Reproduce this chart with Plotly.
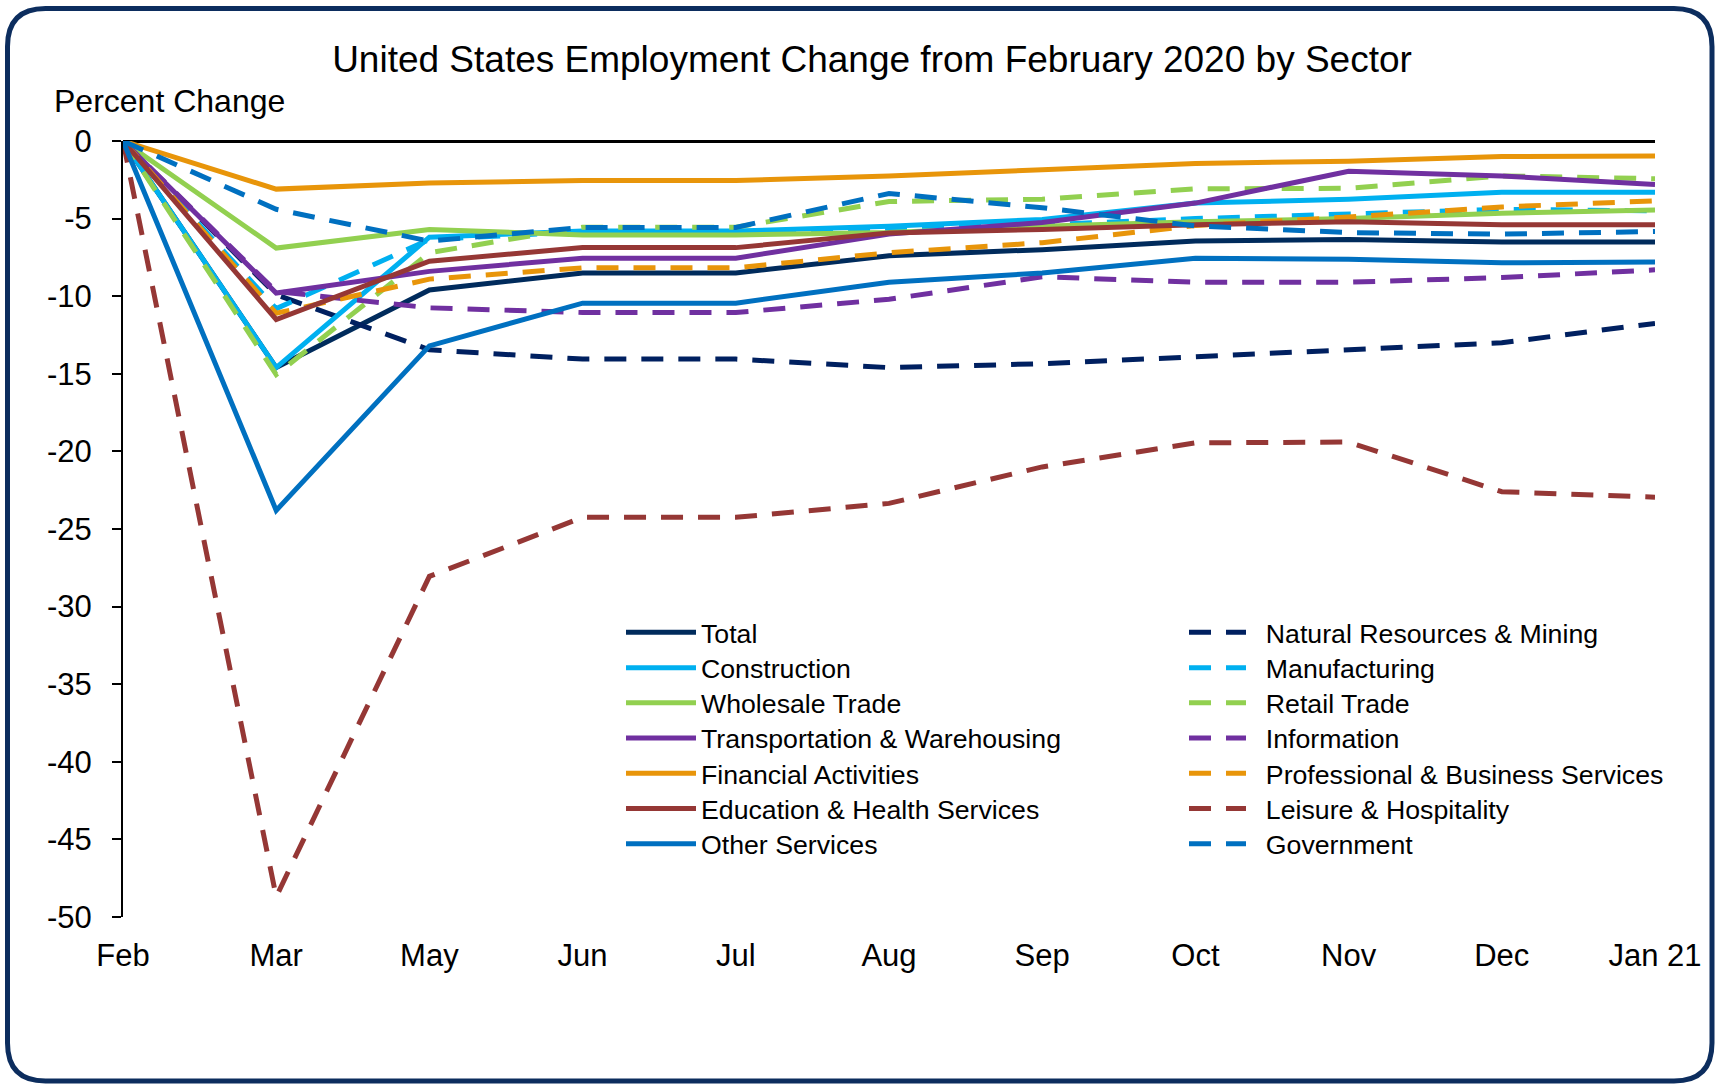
import plotly.graph_objects as go

# ---------------- data ----------------
months = ["Feb", "Mar", "May", "Jun", "Jul", "Aug", "Sep", "Oct", "Nov", "Dec", "Jan 21"]

total         = [0, -14.6, -9.6, -8.5, -8.5, -7.4, -7.0, -6.45, -6.35, -6.5, -6.5]
nat_res       = [0, -9.9, -13.45, -14.05, -14.05, -14.6, -14.35, -13.9, -13.45, -13.0, -11.75]
construction  = [0, -14.6, -6.2, -5.8, -5.8, -5.5, -5.05, -4.0, -3.75, -3.3, -3.3]
manufacturing = [0, -10.8, -6.35, -5.85, -5.85, -5.6, -5.4, -5.0, -4.7, -4.4, -4.5]
wholesale     = [0, -6.9, -5.7, -6.05, -6.05, -5.9, -5.5, -5.2, -5.0, -4.65, -4.45]
retail        = [0, -15.05, -7.2, -5.55, -5.55, -3.9, -3.75, -3.08, -3.05, -2.25, -2.43]
transport     = [0, -9.8, -8.4, -7.55, -7.55, -6.0, -5.25, -4.0, -1.95, -2.25, -2.8]
information   = [0, -9.7, -10.75, -11.05, -11.05, -10.2, -8.75, -9.1, -9.1, -8.8, -8.3]
financial     = [0, -3.1, -2.7, -2.55, -2.55, -2.25, -1.85, -1.45, -1.3, -1.0, -0.97]
professional  = [0, -11.1, -8.9, -8.17, -8.17, -7.2, -6.55, -5.45, -4.9, -4.25, -3.85]
education     = [0, -11.5, -7.75, -6.87, -6.87, -5.92, -5.7, -5.4, -5.2, -5.4, -5.4]
leisure       = [0, -48.7, -28.05, -24.25, -24.25, -23.35, -21.0, -19.45, -19.4, -22.6, -22.95]
other         = [0, -23.8, -13.2, -10.45, -10.45, -9.1, -8.5, -7.55, -7.62, -7.85, -7.8]
government    = [0, -4.4, -6.45, -5.57, -5.57, -3.38, -4.3, -5.47, -5.9, -6.0, -5.83]

y_ticks = [0, -5, -10, -15, -20, -25, -30, -35, -40, -45, -50]

# ---------------- styling ----------------
FONT = "Arial, 'Liberation Sans', sans-serif"
W, H = 1716, 1084
L, R, T, B = 123, 61, 141, 167
PW, PH = W - L - R, H - T - B
DASH = "22px,15px"
LEG_FONT = 26.7

# (name, values, colour, dash, legend column, legend row)
series = [
    ("Total", total, "#002B5C", "solid", 0, 0),
    ("Natural Resources & Mining", nat_res, "#002060", DASH, 1, 0),
    ("Construction", construction, "#00B0F0", "solid", 0, 1),
    ("Manufacturing", manufacturing, "#00B0F0", DASH, 1, 1),
    ("Wholesale Trade", wholesale, "#92D050", "solid", 0, 2),
    ("Retail Trade", retail, "#92D050", DASH, 1, 2),
    ("Transportation & Warehousing", transport, "#7030A0", "solid", 0, 3),
    ("Information", information, "#7030A0", DASH, 1, 3),
    ("Financial Activities", financial, "#E8950A", "solid", 0, 4),
    ("Professional & Business Services", professional, "#E8950A", DASH, 1, 4),
    ("Education & Health Services", education, "#953735", "solid", 0, 5),
    ("Leisure & Hospitality", leisure, "#953735", DASH, 1, 5),
    ("Other Services", other, "#0070C0", "solid", 0, 6),
    ("Government", government, "#0070C0", DASH, 1, 6),
]

ROW_Y = [632.5, 667.8, 703.0, 738.2, 773.5, 808.7, 844.0]   # pixel centres of legend rows
COL_X = [621, 1184]                                       # pixel left of legend items
COL_ITEMW = [70, 57]


def to_paper(px, py):
    return (px - L) / PW, (T + PH - py) / PH


fig = go.Figure()
legends = {}
for i, (name, vals, color, dash, col, row) in enumerate(series):
    leg_id = "legend" if i == 0 else "legend%d" % (i + 1)
    label = name if col == 0 else "\u00a0\u00a0" + name
    fig.add_trace(go.Scatter(
        x=months, y=vals, name=label, mode="lines",
        line=dict(color=color, width=5, dash=dash),
        legend=leg_id,
    ))
    px, py = to_paper(COL_X[col], ROW_Y[row])
    legends[leg_id] = dict(
        x=px, y=py, xanchor="left", yanchor="middle", orientation="v",
        font=dict(size=LEG_FONT, family=FONT, color="black"),
        itemwidth=COL_ITEMW[col], bgcolor="rgba(0,0,0,0)",
    )


def rounded_rect_path(x0, y0, x1, y1, r):
    pts = [
        ("M", [(x0 + r, y0)]),
        ("L", [(x1 - r, y0)]),
        ("Q", [(x1, y0), (x1, y0 + r)]),
        ("L", [(x1, y1 - r)]),
        ("Q", [(x1, y1), (x1 - r, y1)]),
        ("L", [(x0 + r, y1)]),
        ("Q", [(x0, y1), (x0, y1 - r)]),
        ("L", [(x0, y0 + r)]),
        ("Q", [(x0, y0), (x0 + r, y0)]),
    ]
    s = ""
    for cmd, ps in pts:
        s += cmd + " ".join("%.5f,%.5f" % to_paper(a, b) for a, b in ps) + " "
    return s + "Z"


fig.update_layout(
    width=W, height=H,
    margin=dict(l=L, r=R, t=T, b=B),
    paper_bgcolor="white", plot_bgcolor="white",
    font=dict(family=FONT, color="black"),
    showlegend=True,
    title=dict(
        text="United States Employment Change from February 2020 by Sector",
        font=dict(size=37, family=FONT, color="black"),
        x=872 / W, xref="container", xanchor="center",
        y=1 - 59 / H, yref="container", yanchor="middle",
    ),
    xaxis=dict(
        type="category", range=[0, 10], showgrid=False, showline=False,
        zeroline=False, ticks="", tickfont=dict(size=31, family=FONT),
        ticklabelstandoff=17,
    ),
    yaxis=dict(
        range=[-50, 0], tickvals=y_ticks, ticktext=[str(v) for v in y_ticks],
        showgrid=False, showline=True, linecolor="black", linewidth=2,
        ticks="outside", ticklen=9, tickwidth=2, tickcolor="black",
        zeroline=True, zerolinecolor="black", zerolinewidth=3,
        tickfont=dict(size=31, family=FONT), ticklabelstandoff=14,
    ),
    annotations=[
        dict(text="Percent Change", xref="paper", yref="paper",
             x=to_paper(52, 0)[0], y=to_paper(0, 101)[1],
             xanchor="left", yanchor="middle", showarrow=False,
             font=dict(size=32, family=FONT, color="black")),
    ],
    shapes=[
        dict(type="path", xref="paper", yref="paper",
             path=rounded_rect_path(7.5, 8.5, 1712, 1081, 38),
             line=dict(color="#0C2D5E", width=5), fillcolor="rgba(0,0,0,0)",
             layer="below"),
    ],
)
fig.update_layout(**legends)

fig.write_html("out.html")
